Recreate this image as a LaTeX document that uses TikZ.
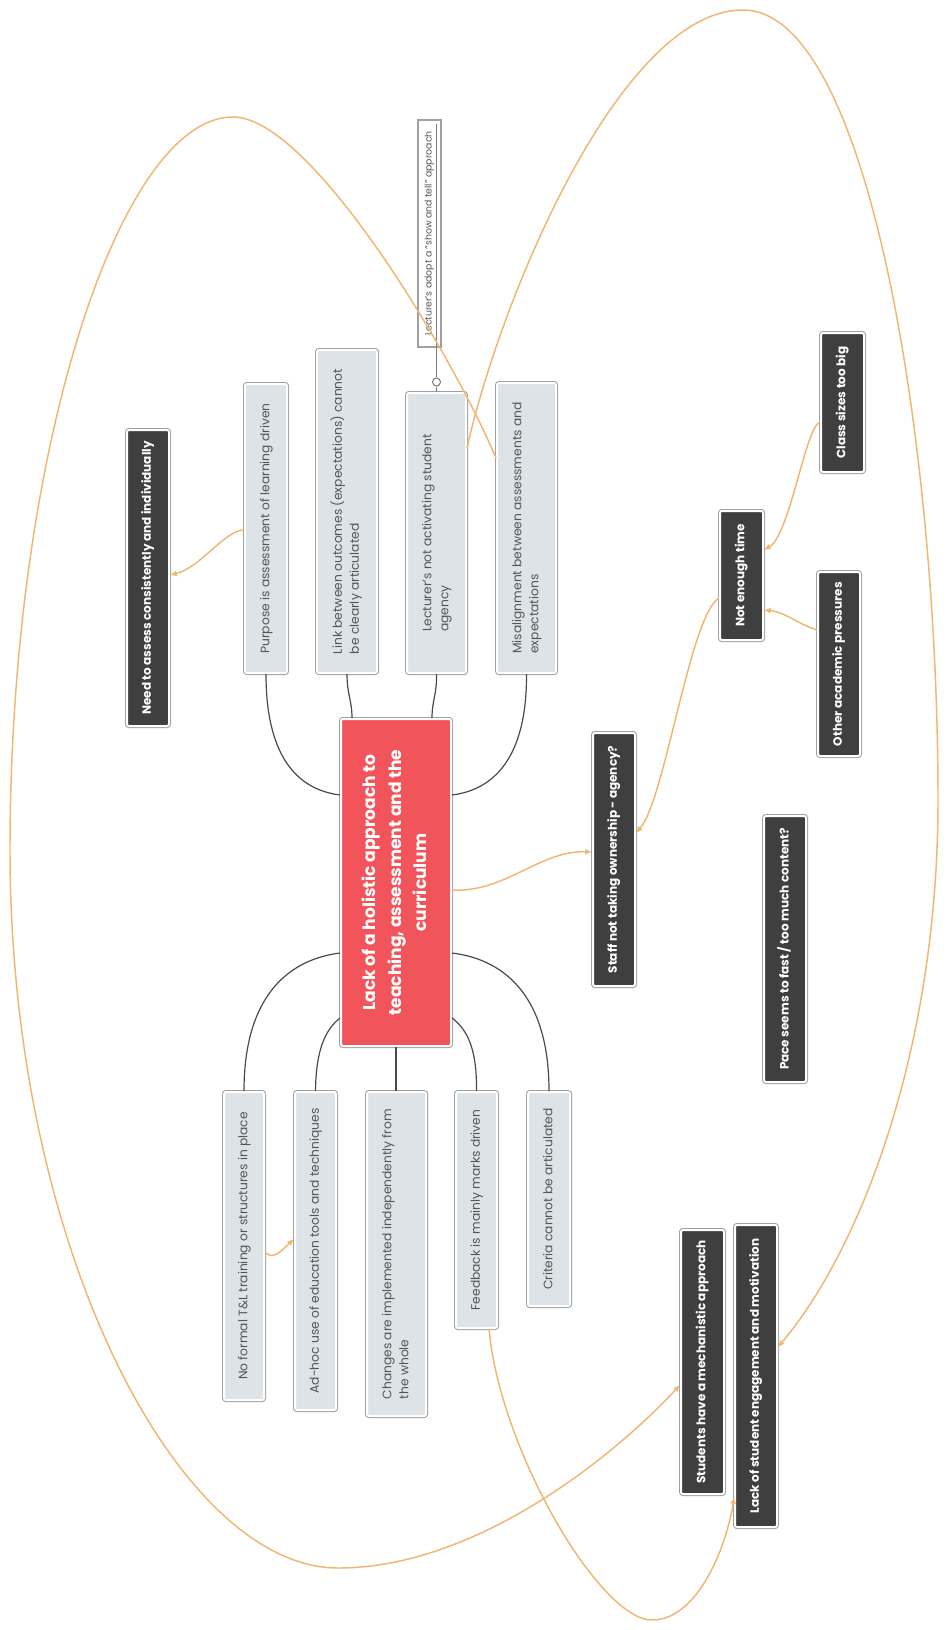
\documentclass[tikz,border=0pt]{standalone}
\usepackage{fontspec}
\setmainfont{Poppins}
\usetikzlibrary{arrows.meta,calc}
\definecolor{boxfill}{HTML}{DDE3E6}
\definecolor{darkfill}{HTML}{3F3F3F}
\definecolor{redfill}{HTML}{F2545B}
\definecolor{rim}{HTML}{A0A0A0}
\definecolor{linkc}{HTML}{EFB771}
\definecolor{conn}{HTML}{4A4A4A}
\definecolor{txt}{HTML}{555555}
\newcommand{\rtl}[1]{\rotatebox{90}{\begin{tabular}{@{}l@{}}#1\end{tabular}}}
\newcommand{\rtc}[1]{\rotatebox{90}{\begin{tabular}{@{}c@{}}#1\end{tabular}}}
\begin{document}
\begin{tikzpicture}[x=0.75pt,y=-0.75pt,
  framed/.style={rectangle, rounded corners=1.5pt, draw=white, line width=1.5pt,
    preaction={draw=rim, line width=3pt}, inner sep=0pt},
  sz/.style 2 args={minimum width=#1*0.75pt, minimum height=#2*0.75pt},
  topic/.style={framed, fill=boxfill, text=txt, font=\fontsize{9.2}{12.75}\selectfont},
  dark/.style={framed, fill=darkfill, text=white, font=\fontsize{9}{11}\selectfont\bfseries},
  core/.style={framed, fill=redfill, text=white, font=\fontsize{12.8}{18.8}\selectfont\bfseries},
  notebox/.style={rectangle, draw=rim, line width=0.8pt, fill=white, inner sep=0pt, text=txt,
    font=\fontsize{7}{8}\selectfont},
  branch/.style={draw=conn, line width=0.9pt},
  thinline/.style={draw=rim!80!black, line width=0.8pt},
  rel/.style={draw=linkc, line width=1.1pt, -{Latex[length=5pt,width=4.5pt]}},
]
\fill[white] (0,0) rectangle (946,1630);
\useasboundingbox (0,0) rectangle (946,1630);

% central topic
\node[core, sz={110}{327}] (main) at (396,882.5) {\rtc{Lack of a holistic approach to\\teaching, assessment and the\\curriculum}};

% upper subtopics
\node[topic, sz={42}{289}] (purp) at (266,528.5) {\rtl{Purpose is assessment of learning driven}};
\node[topic, sz={60}{323}] (link) at (347,511.5) {\rtl{Link between outcomes (expectations) cannot\\be clearly articulated}};
\node[topic, sz={59}{280}] (lect) at (436.5,533) {\rtl{Lecturer’s not activating student\\agency}};
\node[topic, sz={59}{290}] (misal) at (526.5,528) {\rtl{Misalignment between assessments and\\expectations}};

% lower subtopics
\node[topic, sz={40}{308}] (noformal) at (244,1246) {\rtl{No formal T\&L training or structures in place}};
\node[topic, sz={41}{318}] (adhoc) at (315.5,1251) {\rtl{Ad-hoc use of education tools and techniques}};
\node[topic, sz={59}{324}] (changes) at (396.5,1254) {\rtl{Changes are implemented independently from\\the whole}};
\node[topic, sz={41}{236}] (feedback) at (476.5,1210) {\rtl{Feedback is mainly marks driven}};
\node[topic, sz={42}{214}] (criteria) at (549,1199) {\rtl{Criteria cannot be articulated}};

% floating topics
\node[dark, sz={42}{296}] (need) at (148,578) {\rtl{Need to assess consistently and individually}};
\node[dark, sz={42}{253}] (staff) at (614,859.5) {\rtl{Staff not taking ownership - agency?}};
\node[dark, sz={43}{129}] (notime) at (741.5,575.5) {\rtl{Not enough time}};
\node[dark, sz={43}{139}] (classsz) at (842.5,402.5) {\rtl{Class sizes too big}};
\node[dark, sz={42}{184}] (other) at (839,664) {\rtl{Other academic pressures}};
\node[dark, sz={42}{266}] (pace) at (785,949) {\rtl{Pace seems to fast / too much content?}};
\node[dark, sz={43}{264}] (mech) at (702.5,1362) {\rtl{Students have a mechanistic approach}};
\node[dark, sz={42}{302}] (lackeng) at (756,1376) {\rtl{Lack of student engagement and motivation}};

% note
\node[notebox, sz={23}{227}] (note) at (429.5,233.5) {\rtl{Lecturer’s adopt a “show and tell” approach}};
\node[circle, draw=rim!80!black, line width=0.8pt, fill=white, inner sep=0pt, minimum size=6pt] (knob) at (436.5,382) {};
\draw[thinline] (lect.north) -- (knob.south);
\draw[thinline] (knob.north) -- ($(note.north -| knob)+(0,5)$);

% branches
\draw[branch] (purp.south) .. controls (266,760) and (300,790) .. (main.west |- 0,795);
\draw[branch] (link.south) .. controls (347,695) and (352,700) .. (main.north -| 352,0);
\draw[branch] (lect.south) .. controls (437,695) and (432,700) .. (main.north -| 432,0);
\draw[branch] (misal.south) .. controls (527,760) and (492,790) .. (main.east |- 0,795);
\draw[branch] (noformal.north) .. controls (244,1000) and (285,960) .. (main.west |- 0,953);
\draw[branch] (adhoc.north) .. controls (316,1050) and (325,1030) .. (main.west |- 0,1018);
\draw[branch] (main.south) -- (main.south |- changes.north);
\draw[branch] (feedback.north) .. controls (477,1050) and (468,1030) .. (main.east |- 0,1018);
\draw[branch] (criteria.north) .. controls (549,1000) and (508,960) .. (main.east |- 0,953);

% relationships
\draw[rel] (main.east |- 0,890) .. controls (505,893) and (540,850) .. (staff.west |- 0,852);
\draw[rel] (notime.west |- 0,598) .. controls (690,615) and (665,800) .. (staff.east |- 0,833);
\draw[rel] (classsz.west |- 0,422) .. controls (805,428) and (790,535) .. (notime.east |- 0,550);
\draw[rel] (other.west |- 0,630) .. controls (800,625) and (785,612) .. (notime.east |- 0,610);
\draw[rel] (purp.west |- 0,530) .. controls (225,530) and (200,568) .. (need.east |- 0,575);
\draw[rel] (noformal.east |- 0,1252) .. controls (273,1261) and (282,1250) .. (adhoc.west |- 0,1239);

\coordinate (lpeak) at (233,117);
\coordinate (lside) at (10,850);
\coordinate (lbottom) at (338,1568);
\draw[rel] (misal.west |- 0,458) .. controls (450,350) and (310,117) .. (lpeak)
  .. controls (120,117) and (10,450) .. (lside)
  .. controls (10,1250) and (180,1568) .. (lbottom)
  .. controls (480,1568) and (620,1450) .. (mech.west |- 0,1385);

\coordinate (rpeak) at (743,10);
\coordinate (rside) at (938,800);
\draw[rel] (lect.east |- 0,448) .. controls (500,300) and (620,10) .. (rpeak)
  .. controls (870,10) and (938,450) .. (rside)
  .. controls (938,1050) and (860,1250) .. (lackeng.east |- 0,1347);

\coordinate (fbottom) at (652,1620);
\draw[rel] (feedback.south -| 489,0) .. controls (500,1450) and (600,1620) .. (fbottom)
  .. controls (700,1620) and (728,1540) .. (lackeng.west |- 0,1497);
\end{tikzpicture}
\end{document}
